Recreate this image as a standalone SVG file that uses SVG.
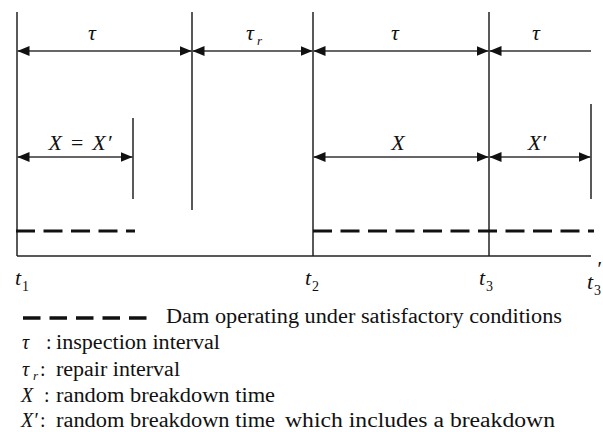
<svg xmlns="http://www.w3.org/2000/svg" width="603" height="432" viewBox="0 0 603 432" font-family="Liberation Serif, Times New Roman, DejaVu Serif, serif">
<style>
  .ln { stroke:#222; stroke-width:1.5; fill:none; }
  .ar { stroke:#333; stroke-width:1.4; fill:none; }
  .dash { stroke:#111; stroke-width:3.2; stroke-dasharray:19 8.5; fill:none; }
  text { fill:#111; }
  .sym { font-style:italic; font-size:22px; }
  .lsym { font-style:italic; font-size:20px; }
  .sub { font-style:normal; font-size:14px; }
  .subi { font-style:italic; font-size:13px; }
  .txt { font-size:20px; }
</style>
<defs>
  <marker id="ah" viewBox="0 0 12 10" refX="12" refY="5" markerWidth="12" markerHeight="10" markerUnits="userSpaceOnUse" orient="auto-start-reverse">
    <path d="M0,0 L12,5 L0,10 Z" fill="#111"/>
  </marker>
</defs>

<g id="frame">
  <line class="ln" x1="17" y1="12" x2="17" y2="256"/>
  <line class="ln" x1="192" y1="12" x2="192" y2="210"/>
  <line class="ln" x1="313" y1="12" x2="313" y2="256"/>
  <line class="ln" x1="489" y1="12" x2="489" y2="256"/>
  <line class="ln" x1="133" y1="118" x2="133" y2="199"/>
  <line class="ln" x1="591" y1="104" x2="591" y2="199"/>
  <line class="ln" x1="17" y1="256" x2="591" y2="256"/>
</g>

<g id="connectors">
  <line class="ar" x1="17.5" y1="51" x2="191.5" y2="51" marker-start="url(#ah)" marker-end="url(#ah)"/>
  <line class="ar" x1="192.5" y1="51" x2="312.5" y2="51" marker-start="url(#ah)" marker-end="url(#ah)"/>
  <line class="ar" x1="313.5" y1="51" x2="488.5" y2="51" marker-start="url(#ah)" marker-end="url(#ah)"/>
  <line class="ar" x1="489.5" y1="51" x2="591" y2="51" marker-start="url(#ah)"/>
  <line class="ar" x1="17.5" y1="157" x2="132.5" y2="157" marker-start="url(#ah)" marker-end="url(#ah)"/>
  <line class="ar" x1="313.5" y1="157" x2="488.5" y2="157" marker-start="url(#ah)" marker-end="url(#ah)"/>
  <line class="ar" x1="489.5" y1="157" x2="590.5" y2="157" marker-start="url(#ah)" marker-end="url(#ah)"/>
</g>

<g id="operating">
  <line class="dash" x1="16" y1="231" x2="135" y2="231"/>
  <line class="dash" x1="313" y1="231" x2="594" y2="231"/>
</g>

<g id="labels-top">
  <text class="sym" x="92" y="40" text-anchor="middle">τ</text>
  <text class="sym" x="250" y="40" text-anchor="middle">τ</text>
  <text class="subi" x="257" y="45">r</text>
  <text class="sym" x="395" y="40" text-anchor="middle">τ</text>
  <text class="sym" x="536" y="40" text-anchor="middle">τ</text>
</g>

<g id="labels-mid">
  <text class="sym" x="80" y="150" text-anchor="middle" textLength="63" lengthAdjust="spacing">X = X′</text>
  <text class="sym" x="398" y="150" text-anchor="middle">X</text>
  <text class="sym" x="537" y="150" text-anchor="middle">X′</text>
</g>

<g id="labels-time">
  <text class="sym" x="15" y="285">t</text><text class="sub" x="22" y="291">1</text>
  <text class="sym" x="305" y="285">t</text><text class="sub" x="312" y="291">2</text>
  <text class="sym" x="479" y="285">t</text><text class="sub" x="486" y="291">3</text>
  <text class="sym" x="587" y="289">t</text><text class="sub" x="594" y="295">3</text>
  <text class="sym" x="596" y="276">′</text>
</g>

<g id="legend">
  <line class="dash" x1="23" y1="318" x2="150" y2="318" style="stroke-dasharray:17.5 9; stroke-width:3.6"/>
  <text class="txt" x="166" y="323" textLength="396" lengthAdjust="spacingAndGlyphs">Dam operating under satisfactory conditions</text>

  <text class="lsym" x="22" y="349">τ</text>
  <text class="txt" x="46" y="349">:</text>
  <text class="txt" x="56" y="349" textLength="164" lengthAdjust="spacingAndGlyphs">inspection interval</text>

  <text class="lsym" x="22" y="376">τ</text><text class="subi" x="33" y="380">r</text>
  <text class="txt" x="40" y="376">:</text>
  <text class="txt" x="56" y="376" textLength="124" lengthAdjust="spacingAndGlyphs">repair interval</text>

  <text class="lsym" x="21" y="402">X</text>
  <text class="txt" x="44" y="402">:</text>
  <text class="txt" x="56" y="402" textLength="219" lengthAdjust="spacingAndGlyphs">random breakdown time</text>

  <text class="lsym" x="21" y="427">X′</text>
  <text class="txt" x="40" y="427">:</text>
  <text class="txt" x="56" y="427" textLength="219" lengthAdjust="spacingAndGlyphs">random breakdown time</text>
  <text class="txt" x="285" y="427" textLength="270" lengthAdjust="spacingAndGlyphs">which includes a breakdown</text>
</g>
</svg>
